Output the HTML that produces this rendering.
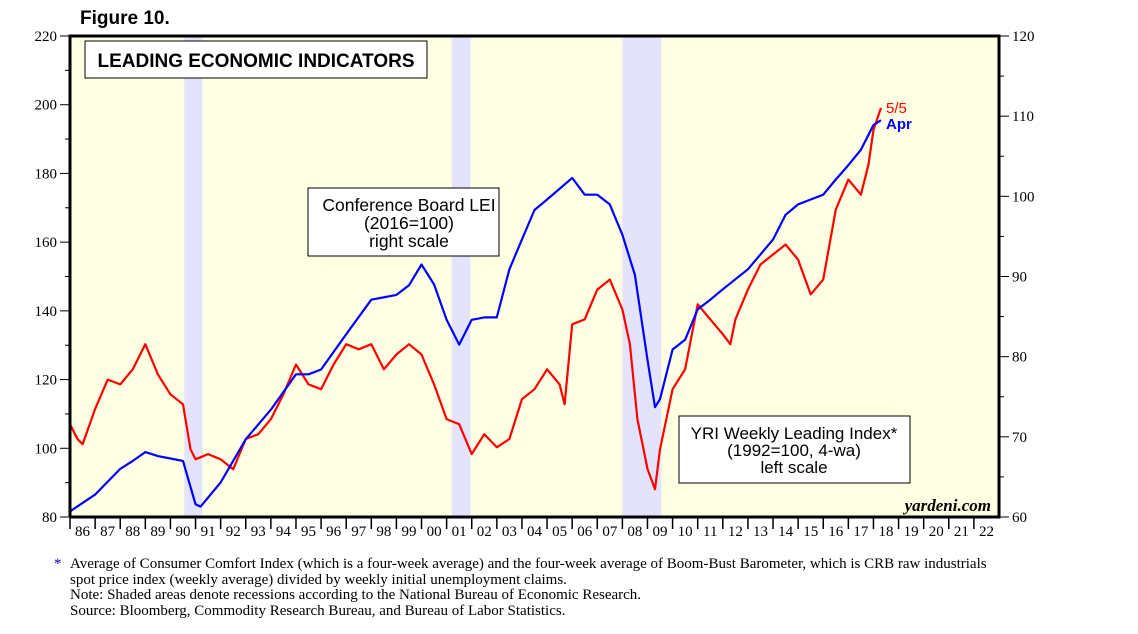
<!DOCTYPE html>
<html><head><meta charset="utf-8"><style>
body{margin:0;background:#fff;width:1138px;height:634px;overflow:hidden}
svg{position:absolute;left:0;top:0}
.note{position:absolute;left:70px;font:15px "Liberation Serif",serif;color:#000;line-height:15.7px;white-space:nowrap}
</style></head><body>
<svg id="chart" width="1138" height="634"></svg>
<div class="note" style="top:557px"><span style="position:absolute;left:-16px;color:#00c">*</span>Average of Consumer Comfort Index (which is a four-week average) and the four-week average of Boom-Bust Barometer, which is CRB raw industrials<br>spot price index (weekly average) divided by weekly initial unemployment claims.<br>Note: Shaded areas denote recessions according to the National Bureau of Economic Research.<br>Source: Bloomberg, Commodity Research Bureau, and Bureau of Labor Statistics.</div>
<script>
const leiT=[1986,1987,1988,1988.5,1989,1989.5,1990,1990.5,1991,1991.2,1992,1993,1994,1995,1995.5,1996,1997,1998,1999,1999.5,2000,2000.5,2001,2001.5,2002,2002.5,2003,2003.5,2004,2004.5,2005,2006,2006.5,2007,2007.5,2008,2008.5,2009,2009.3,2009.5,2010,2010.5,2011,2011.5,2012,2013,2014,2014.5,2015,2015.5,2016,2016.5,2017,2017.5,2018,2018.3];
const leiV=[60.7,62.8,66,67,68.1,67.6,67.3,67,61.6,61.3,64.3,69.7,73.4,77.8,77.8,78.4,82.8,87.1,87.7,88.9,91.5,89,84.6,81.5,84.6,84.9,84.9,90.9,94.6,98.3,99.6,102.3,100.2,100.2,99,95.2,90.2,79.6,73.7,74.7,80.9,82.1,85.9,87.1,88.4,90.9,94.6,97.7,99,99.6,100.2,102.1,103.9,105.8,108.9,109.5];
const yriT=[1986,1986.3,1986.5,1987,1987.5,1988,1988.5,1989,1989.5,1990,1990.5,1990.8,1991,1991.5,1992,1992.5,1993,1993.5,1994,1994.5,1995,1995.5,1996,1996.5,1997,1997.5,1998,1998.5,1999,1999.5,2000,2000.5,2001,2001.5,2002,2002.5,2003,2003.5,2004,2004.5,2005,2005.5,2005.7,2006,2006.5,2007,2007.5,2008,2008.3,2008.6,2009,2009.3,2009.5,2010,2010.5,2011,2011.5,2012,2012.3,2012.5,2013,2013.5,2014,2014.5,2015,2015.5,2016,2016.5,2017,2017.5,2017.8,2018,2018.3];
const yriV=[107,102.7,101.2,111.4,120,118.6,123,130.3,121.5,115.7,112.8,99.7,96.8,98.3,96.8,93.9,102.7,104.1,108.5,115.7,124.4,118.6,117.2,124.4,130.3,128.8,130.3,123,127.3,130.3,127.3,118.6,108.5,107,98.3,104.1,100.3,102.7,114.3,117.2,123,118.6,112.8,136.1,137.5,146.2,149.1,140.4,130.3,108.5,94,88.1,99.7,117.2,123,141.9,137.5,133.2,130.3,137.5,146.2,153.5,156.4,159.3,154.9,144.8,149.1,169.5,178.2,173.8,182.5,192.7,199.1];
const recessions=[[1990.55,1991.27],[2001.2,2001.95],[2008.0,2009.55]];
const leftTicks=[80,100,120,140,160,180,200,220];
const rightTicks=[60,70,80,90,100,110,120];
const yearLabels=["86","87","88","89","90","91","92","93","94","95","96","97","98","99","00","01","02","03","04","05","06","07","08","09","10","11","12","13","14","15","16","17","18","19","20","21","22"];
const X0=70,X1=999,Y0=36,Y1=517;
const x=t=>X0+(t-1986)*(X1-X0)/37;
const yL=v=>Y1-(v-80)*(Y1-Y0)/140;
const yR=v=>Y1-(v-60)*(Y1-Y0)/60;
const svg=document.getElementById('chart');const NS='http://www.w3.org/2000/svg';
function mk(tag,at,txt){const e=document.createElementNS(NS,tag);for(const k in at)e.setAttribute(k,at[k]);if(txt!=null)e.textContent=txt;svg.appendChild(e);return e;}
let e=mk('rect',{x:X0,y:Y0,width:X1-X0,height:Y1-Y0,fill:'#ffffe3'});


recessions.forEach(r=>{const el=mk('rect',{x:x(r[0]),y:Y0,width:x(r[1])-x(r[0]),height:Y1-Y0,fill:'#e3e3fb'});

});
function line(T,V,f,col,name){const d=T.map((t,i)=>(i?'L':'M')+x(t).toFixed(1)+','+f(V[i]).toFixed(1)).join('');const el=mk('path',{d:d,fill:'none',stroke:col,'stroke-width':2.2,'stroke-linejoin':'round'});

}
line(yriT,yriV,yL,'#ff0000','yri-weekly-leading-index-line');
line(leiT,leiV,yR,'#0000ff','conference-board-lei-line');
mk('path',{d:`M${X0},${Y1}V${Y0}H${X1}V${Y1}H${X0}`,fill:'none',stroke:'#000','stroke-width':3});
leftTicks.forEach((v,i)=>{mk('line',{x1:X0-10,x2:X0,y1:yL(v),y2:yL(v),stroke:'#000'});if(i<leftTicks.length-1)mk('line',{x1:X0-5,x2:X0,y1:yL(v+10),y2:yL(v+10),stroke:'#000'});
const t=mk('text',{x:X0-13,y:yL(v)+5,'text-anchor':'end','font-family':'Liberation Serif,serif','font-size':15},v);

});
rightTicks.forEach((v,i)=>{mk('line',{x1:X1,x2:X1+10,y1:yR(v),y2:yR(v),stroke:'#000'});if(i<rightTicks.length-1)mk('line',{x1:X1,x2:X1+5,y1:yR(v+5),y2:yR(v+5),stroke:'#000'});
const t=mk('text',{x:X1+13,y:yR(v)+5,'font-family':'Liberation Serif,serif','font-size':15},v);

});
yearLabels.forEach((l,i)=>{mk('line',{x1:x(1986+i),x2:x(1986+i),y1:Y1,y2:Y1+12,stroke:'#000','stroke-width':1.5});
const t=mk('text',{x:x(1986.5+i),y:Y1+19,'text-anchor':'middle','font-family':'Liberation Serif,serif','font-size':15},l);

});
</script>
<svg width="1138" height="634" style="pointer-events:none">
<text x="80" y="24" font-family="Liberation Sans,sans-serif" font-weight="bold" font-size="19">Figure 10.</text>
<rect x="85" y="41" width="342" height="37" fill="#fff" stroke="#000"/>
<text x="256" y="67" text-anchor="middle" font-family="Liberation Sans,sans-serif" font-weight="bold" font-size="19">LEADING ECONOMIC INDICATORS</text>
<g>
<rect x="308" y="188" width="191" height="68" fill="#fff" stroke="#000"/>
<text x="409" y="211" text-anchor="middle" font-family="Liberation Sans,sans-serif" font-size="17.5">Conference Board LEI</text>
<text x="409" y="229" text-anchor="middle" font-family="Liberation Sans,sans-serif" font-size="17.5">(2016=100)</text>
<text x="409" y="247" text-anchor="middle" font-family="Liberation Sans,sans-serif" font-size="17.5">right scale</text></g>
<g>
<rect x="679" y="416" width="231" height="67" fill="#fff" stroke="#000"/>
<text x="794" y="439" text-anchor="middle" font-family="Liberation Sans,sans-serif" font-size="17">YRI Weekly Leading Index*</text>
<text x="794" y="456" text-anchor="middle" font-family="Liberation Sans,sans-serif" font-size="17">(1992=100, 4-wa)</text>
<text x="794" y="473" text-anchor="middle" font-family="Liberation Sans,sans-serif" font-size="17">left scale</text></g>
<text x="886" y="113" fill="#ff0000" font-family="Liberation Sans,sans-serif" font-size="15">5/5</text>
<text x="886" y="129" fill="#0000ff" font-family="Liberation Sans,sans-serif" font-weight="bold" font-size="15">Apr</text>
<text x="991" y="511" text-anchor="end" font-family="Liberation Serif,serif" font-style="italic" font-weight="bold" font-size="17">yardeni.com</text>
</svg>
</body></html>
